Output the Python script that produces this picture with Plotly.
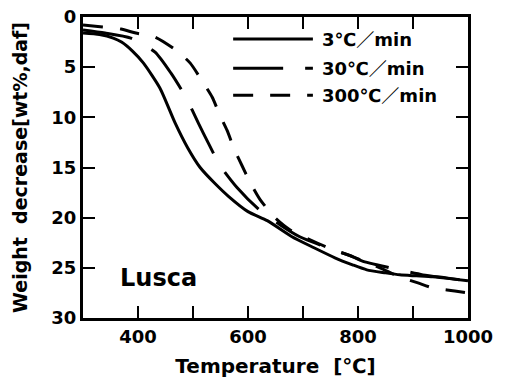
import plotly.graph_objects as go

# ---- data ----
series_names = ["3℃／min", "30℃／min", "300℃／min"]

t_3 = [300, 330, 355, 370, 390, 410, 440, 467, 490, 513, 540, 565, 600, 635, 680,
       720, 758, 790, 816, 850, 876, 906, 936, 970, 1000]
w_3 = [1.6, 1.75, 2.1, 2.5, 3.4, 4.6, 7.1, 10.5, 13.0, 15.0, 16.6, 17.9, 19.4, 20.3,
       21.9, 23.0, 24.0, 24.7, 25.2, 25.5, 25.7, 25.8, 25.9, 26.1, 26.3]

t_30 = [300, 340, 387, 431, 460, 487, 510, 530, 549, 580, 620, 658, 694, 740,
        791, 807, 850, 918, 960, 1000]
w_30 = [1.3, 1.6, 2.1, 3.5, 5.6, 8.0, 10.6, 12.8, 14.8, 17.0, 19.2, 20.7, 21.9,
        22.9, 23.9, 24.3, 24.9, 25.7, 26.0, 26.3]

t_300 = [300, 336, 369, 396, 431, 469, 495, 518, 535, 549, 562, 576, 589, 604,
         622, 649, 676, 713, 750, 791, 840, 876, 909, 936, 976, 1000]
w_300 = [0.8, 1.0, 1.2, 1.6, 2.0, 3.3, 4.6, 6.5, 8.0, 9.8, 11.3, 13.3, 14.8,
         16.5, 18.2, 20.0, 21.2, 22.2, 23.1, 23.9, 25.0, 25.9, 26.5, 27.0, 27.3, 27.5]

x_tickvals = [300, 400, 500, 600, 700, 800, 900, 1000]
x_ticktext = ["", "400", "", "600", "", "800", "", "1000"]
y_tickvals = [0, 5, 10, 15, 20, 25, 30]
y_ticktext = ["0", "5", "10", "15", "20", "25", "30"]

sample_label = "Lusca"
x_title = "Temperature\u00a0\u00a0[℃]"
y_title = "Weight\u00a0\u00a0decrease[wt%,daf]"

# ---- styling ----
FONT = "DejaVu Sans, Noto Sans CJK JP, sans-serif"
dashes = ["solid", "50px,22px", "20px,17px"]
series = [(t_3, w_3), (t_30, w_30), (t_300, w_300)]

fig = go.Figure()
for (tx, wy), name, dash in zip(series, series_names, dashes):
    fig.add_trace(go.Scatter(
        x=tx, y=wy, name=name, mode="lines",
        line=dict(color="black", width=3, dash=dash, shape="spline", smoothing=0.6),
        showlegend=False,
    ))

# hand-drawn style legend inside the plot
leg_y = [2.2, 5.1, 7.8]
for name, dash, ly in zip(series_names, dashes, leg_y):
    fig.add_shape(type="line", xref="x", yref="y", x0=573, x1=718, y0=ly, y1=ly,
                  line=dict(color="black", width=3, dash=dash))
    fig.add_annotation(x=731, y=ly, xref="x", yref="y", text=name, showarrow=False,
                       xanchor="left", yanchor="middle",
                       font=dict(family=FONT, size=18, color="black", weight="bold"))

fig.add_annotation(x=364, y=26.0, xref="x", yref="y", text=sample_label,
                   showarrow=False, xanchor="left", yanchor="middle",
                   font=dict(family=FONT, size=24, color="black", weight="bold"))

axis_common = dict(
    showline=True, linecolor="black", linewidth=3, mirror="ticks",
    ticks="inside", ticklen=12, tickwidth=2, tickcolor="black",
    showgrid=False, zeroline=False, automargin=False,
    ticklabeloverflow="allow",
    tickfont=dict(family=FONT, size=18, color="black", weight="bold"),
)

fig.update_layout(
    width=510, height=378,
    margin=dict(l=83, r=42, t=17, b=60),
    paper_bgcolor="white", plot_bgcolor="white",
    font=dict(family=FONT, size=18, color="black", weight="bold"),
    xaxis=dict(range=[300, 1000], tickvals=x_tickvals, ticktext=x_ticktext,
               title=dict(text=x_title, standoff=15,
                          font=dict(family=FONT, size=20, color="black", weight="bold")),
               **axis_common),
    yaxis=dict(range=[30, 0], tickvals=y_tickvals, ticktext=y_ticktext,
               title=dict(text=y_title, standoff=19,
                          font=dict(family=FONT, size=19, color="black", weight="bold")),
               **axis_common),
)

# remove the browser's default 8px body margin so the figure sits at the page corner
fig.write_html("out.html",
               config={"displayModeBar": False},
               post_script="document.body.style.margin='0';document.body.style.overflow='hidden';")
